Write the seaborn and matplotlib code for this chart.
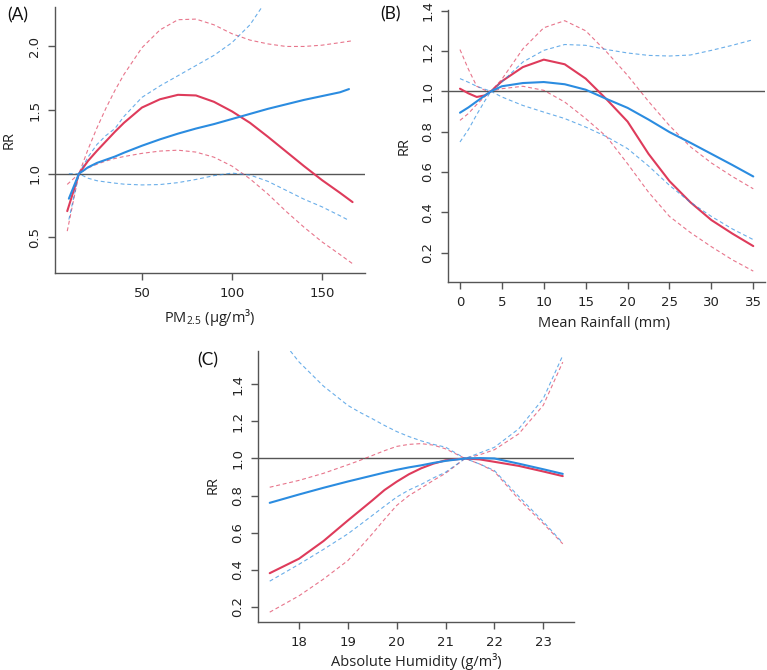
import numpy as np
import pandas as pd
import matplotlib
matplotlib.use("Agg")
import matplotlib.pyplot as plt
import seaborn as sns

# ---------------- Panel A: PM2.5 ----------------
pm_x_red = [8.5, 15, 20, 25, 30, 35, 40, 50, 60, 70, 80, 90, 100, 110, 120, 130, 140, 150, 160, 167]
pm_red_rr = [0.706, 1.0, 1.10, 1.18, 1.255, 1.33, 1.40, 1.52, 1.585, 1.62, 1.615, 1.565, 1.49, 1.40, 1.29, 1.175, 1.06, 0.95, 0.85, 0.777]
pm_red_hi = [0.549, 1.0, 1.19, 1.36, 1.515, 1.655, 1.78, 1.99, 2.13, 2.21, 2.215, 2.17, 2.10, 2.05, 2.02, 2.0, 2.0, 2.01, 2.03, 2.045]
pm_red_lo = [0.916, 1.0, 1.045, 1.075, 1.10, 1.12, 1.135, 1.16, 1.178, 1.185, 1.17, 1.13, 1.06, 0.96, 0.84, 0.705, 0.58, 0.465, 0.365, 0.293]
pm_x_blue = [9.4, 15, 20, 25, 30, 35, 40, 50, 60, 70, 80, 90, 100, 110, 120, 130, 140, 150, 160, 165]
pm_blue_rr = [0.804, 1.0, 1.05, 1.085, 1.11, 1.135, 1.165, 1.22, 1.27, 1.315, 1.355, 1.39, 1.43, 1.47, 1.51, 1.545, 1.58, 1.61, 1.64, 1.665]
pm_blue_hi = [0.64, 1.0, 1.13, 1.23, 1.30, 1.355, 1.45, 1.60, 1.69, 1.77, 1.85, 1.93, 2.03, 2.17, 2.38, np.nan, np.nan, np.nan, np.nan, np.nan]
pm_blue_lo = [1.0, 1.0, 0.965, 0.945, 0.935, 0.926, 0.918, 0.912, 0.915, 0.93, 0.955, 0.985, 1.005, 0.99, 0.94, 0.87, 0.80, 0.74, 0.67, 0.633]
pm_xticks = [50, 100, 150]
pm_yticks = [0.5, 1.0, 1.5, 2.0]

# ---------------- Panel B: Rainfall ----------------
rain_x = [0, 1, 2, 3, 3.7, 5, 7.5, 10, 12.5, 15, 17.5, 20, 22.5, 25, 27.5, 30, 32.5, 35]
rain_red_rr = [1.013, 0.99, 0.972, 0.98, 1.0, 1.05, 1.12, 1.157, 1.134, 1.063, 0.96, 0.85, 0.69, 0.555, 0.45, 0.362, 0.295, 0.233]
rain_red_hi = [0.856, 0.89, 0.935, 0.975, 1.0, 1.06, 1.21, 1.315, 1.35, 1.30, 1.195, 1.079, 0.95, 0.83, 0.725, 0.645, 0.578, 0.517]
rain_red_lo = [1.207, 1.11, 1.025, 1.005, 1.0, 1.013, 1.025, 1.005, 0.947, 0.865, 0.775, 0.641, 0.50, 0.38, 0.30, 0.23, 0.165, 0.109]
rain_blue_rr = [0.894, 0.92, 0.95, 0.98, 1.0, 1.025, 1.041, 1.046, 1.035, 1.008, 0.962, 0.918, 0.86, 0.798, 0.745, 0.69, 0.635, 0.578]
rain_blue_hi = [0.749, 0.81, 0.885, 0.955, 1.0, 1.046, 1.145, 1.203, 1.232, 1.228, 1.207, 1.19, 1.178, 1.175, 1.18, 1.203, 1.228, 1.256]
rain_blue_lo = [1.063, 1.045, 1.025, 1.01, 1.0, 0.972, 0.93, 0.897, 0.865, 0.823, 0.775, 0.716, 0.63, 0.534, 0.45, 0.38, 0.318, 0.265]
rain_xticks = [0, 5, 10, 15, 20, 25, 30, 35]
rain_yticks = [0.2, 0.4, 0.6, 0.8, 1.0, 1.2, 1.4]

# ---------------- Panel C: Absolute humidity ----------------
hum_x = [17.4, 18, 18.5, 19, 19.25, 19.5, 19.75, 20, 20.25, 20.5, 20.75, 21, 21.4, 21.7, 22, 22.5, 23, 23.4]
hum_red_rr = [0.382, 0.46, 0.555, 0.666, 0.72, 0.774, 0.83, 0.875, 0.915, 0.947, 0.972, 0.99, 1.0, 0.995, 0.982, 0.96, 0.93, 0.905]
hum_red_a = [0.845, 0.882, 0.92, 0.966, 0.99, 1.016, 1.042, 1.065, 1.076, 1.08, 1.072, 1.052, 1.0, 0.97, 0.93, 0.78, 0.65, 0.54]
hum_red_b = [0.172, 0.26, 0.35, 0.45, 0.52, 0.594, 0.672, 0.747, 0.80, 0.84, 0.882, 0.92, 1.0, 1.02, 1.047, 1.133, 1.286, 1.519]
hum_blue_rr = [0.761, 0.806, 0.842, 0.876, 0.892, 0.908, 0.924, 0.939, 0.952, 0.963, 0.976, 0.987, 1.0, 1.002, 1.0, 0.972, 0.942, 0.917]
hum_blue_a = [1.72, 1.52, 1.39, 1.286, 1.248, 1.214, 1.178, 1.145, 1.118, 1.095, 1.076, 1.061, 1.0, 0.97, 0.935, 0.795, 0.66, 0.545]
hum_blue_b = [0.339, 0.43, 0.51, 0.594, 0.643, 0.693, 0.743, 0.792, 0.83, 0.86, 0.895, 0.926, 1.0, 1.03, 1.06, 1.16, 1.322, 1.555]
hum_xticks = [18, 19, 20, 21, 22, 23]
hum_yticks = [0.2, 0.4, 0.6, 0.8, 1.0, 1.2, 1.4]

RED = "#DE3B5B"
BLUE = "#2B8CE0"
GREY = "#555555"

sns.set_theme(style="ticks")
plt.rcParams["font.family"] = ["DejaVu Sans"]
plt.rcParams["mathtext.fontset"] = "custom"
plt.rcParams["mathtext.rm"] = "Open Sans"
plt.rcParams["mathtext.it"] = "Open Sans:italic"
plt.rcParams["mathtext.bf"] = "Open Sans:bold"

W, H = 767, 670
fig = plt.figure(figsize=(W / 100, H / 100), dpi=100)


def px_axes(l, t, r, b):
    return fig.add_axes([l / W, 1 - b / H, (r - l) / W, (b - t) / H])


def draw_curve(ax, x, rr, hi, lo, color):
    for band in (hi, lo):
        d = pd.DataFrame({"x": x, "y": band}).dropna()
        sns.lineplot(data=d, x="x", y="y", ax=ax, color=color, lw=0.8, alpha=0.7,
                     linestyle=(0, (3.5, 2.5)), sort=False, estimator=None)
    d = pd.DataFrame({"x": x, "y": rr})
    sns.lineplot(data=d, x="x", y="y", ax=ax, color=color, lw=1.5,
                 sort=False, estimator=None)


def style_axes(ax, xlim, ylim, xticks, yticks, yfmt):
    ax.axhline(1.0, color=GREY, lw=1.0, zorder=1)
    ax.set_xlim(*xlim)
    ax.set_ylim(*ylim)
    ax.set_xticks(xticks)
    ax.set_yticks(yticks)
    ax.set_yticklabels([yfmt.format(v) for v in yticks])
    ax.set_xlabel("")
    ax.set_ylabel("")
    for s in ("top", "right"):
        ax.spines[s].set_visible(False)
    for s in ("left", "bottom"):
        ax.spines[s].set_color(GREY)
        ax.spines[s].set_linewidth(1.0)
    ax.tick_params(axis="both", direction="out", length=5, width=1.0,
                   color=GREY, labelsize=9.5, labelcolor="#222222", pad=5)
    for lab in ax.get_yticklabels():
        lab.set_rotation(90)
        lab.set_va("center")
        lab.set_ha("right")
    ax.patch.set_alpha(0)


axA = px_axes(55, 7, 365, 273)
draw_curve(axA, pm_x_red, pm_red_rr, pm_red_hi, pm_red_lo, RED)
draw_curve(axA, pm_x_blue, pm_blue_rr, pm_blue_hi, pm_blue_lo, BLUE)
style_axes(axA, (1.7, 173.9), (0.22, 2.31), pm_xticks, pm_yticks, "{:.1f}")

axB = px_axes(448, 10, 765, 282)
draw_curve(axB, rain_x, rain_red_rr, rain_red_hi, rain_red_lo, RED)
draw_curve(axB, rain_x, rain_blue_rr, rain_blue_hi, rain_blue_lo, BLUE)
style_axes(axB, (-1.43, 36.4), (0.055, 1.403), rain_xticks, rain_yticks, "{:.1f}")

axC = px_axes(258, 351, 574, 622)
draw_curve(axC, hum_x, hum_red_rr, hum_red_a, hum_red_b, RED)
draw_curve(axC, hum_x, hum_blue_rr, hum_blue_a, hum_blue_b, BLUE)
style_axes(axC, (17.16, 23.63), (0.119, 1.579), hum_xticks, hum_yticks, "{:.1f}")

LBL = dict(fontsize=10.5, color="#222222", family=["Open Sans", "DejaVu Sans"])
PANEL = dict(fontsize=12.5, color="#111111", family=["Lato", "DejaVu Sans"])


def ftext(x, y, s, rot=0, **kw):
    fig.text(x / W, 1 - y / H, s, rotation=rot, ha="center", va="center", **kw)


ftext(210, 318, "PM$_{2.5}$ (\u00b5g/m\u00b3)", **LBL)
ftext(604, 324, "Mean Rainfall (mm)", **LBL)
ftext(416, 661, "Absolute Humidity (g/m\u00b3)", **LBL)
ftext(9, 140, "RR", rot=90, **LBL)
ftext(404, 146, "RR", rot=90, **LBL)
ftext(213, 485, "RR", rot=90, **LBL)
ftext(18, 15, "(A)", **PANEL)
ftext(391, 14, "(B)", **PANEL)
ftext(208, 360, "(C)", **PANEL)

fig.savefig("out.png", dpi=100, facecolor="white")
